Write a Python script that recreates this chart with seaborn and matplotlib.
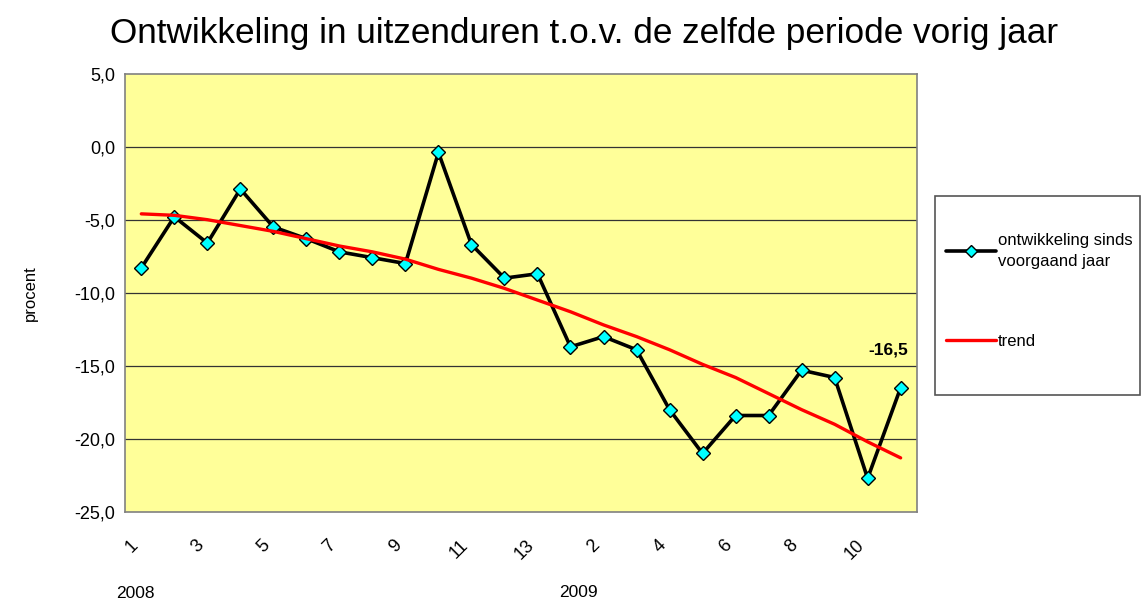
import numpy as np
import pandas as pd
import matplotlib
matplotlib.use("Agg")
import matplotlib.pyplot as plt
import seaborn as sns
from matplotlib.patches import Rectangle

# -------------------- DATA --------------------
periods = [1, 2, 3, 4, 5, 6, 7, 8, 9, 10, 11, 12, 13,
           1, 2, 3, 4, 5, 6, 7, 8, 9, 10, 11]
years = ["2008"] * 13 + ["2009"] * 11
ontwikkeling = [-8.3, -4.8, -6.6, -2.9, -5.5, -6.3, -7.2, -7.6, -8.0, -0.4, -6.7, -9.0, -8.7,
                -13.7, -13.0, -13.9, -18.0, -21.0, -18.4, -18.4, -15.3, -15.8, -22.7, -16.5]
trend = [-4.6, -4.7, -5.0, -5.4, -5.8, -6.3, -6.8, -7.2, -7.7, -8.4, -9.0, -9.7, -10.5,
         -11.3, -12.2, -13.0, -13.9, -14.9, -15.8, -16.9, -18.0, -19.0, -20.2, -21.3]
yticks = [5, 0, -5, -10, -15, -20, -25]

df = pd.DataFrame({"pos": range(len(periods)), "periode": periods, "jaar": years,
                   "ontwikkeling": ontwikkeling, "trend": trend})

# -------------------- PLOT --------------------
sns.set_style("white")
plt.rcParams["font.family"] = ["Liberation Sans", "DejaVu Sans"]
plt.rcParams["text.color"] = "black"
plt.rcParams["xtick.color"] = "black"
plt.rcParams["ytick.color"] = "black"
plt.rcParams["axes.labelcolor"] = "black"

fig = plt.figure(figsize=(11.45, 6.03), dpi=100)
ax = fig.add_axes([0.109, 0.151, 0.692, 0.727])
ax.set_facecolor("#FFFF99")

for y in yticks[1:-1]:
    ax.axhline(y, color="#333333", lw=0.9, zorder=1)

sns.lineplot(data=df, x="pos", y="ontwikkeling", ax=ax, color="black", lw=2.6,
             marker="D", markersize=7, markerfacecolor="#00FFFF", markeredgecolor="black",
             markeredgewidth=1.0, zorder=3)
sns.lineplot(data=df, x="pos", y="trend", ax=ax, color="#FF0000", lw=2.4, zorder=4)

ax.set_xlim(-0.5, len(periods) - 0.5)
ax.set_ylim(-25, 5)
ax.set_yticks(yticks)
ax.set_yticklabels([f"{v:.1f}".replace(".", ",") for v in yticks], fontsize=13)
xt = list(range(0, len(periods), 2))
ax.set_xticks(xt)
ax.set_xticklabels([str(periods[i]) for i in xt], rotation=45, ha="right",
                   va="top", fontsize=13)
ax.tick_params(axis="y", length=0, pad=7)
ax.tick_params(axis="x", length=0, pad=18)
ax.set_xlabel("")
ax.set_ylabel("procent", fontsize=12, labelpad=26)
for s in ax.spines.values():
    s.set_color("#808080")
    s.set_linewidth(1.2)

ax.annotate("-16,5", (df["pos"].iloc[-1], ontwikkeling[-1]), xytext=(-9, 27),
            textcoords="offset points", ha="center", va="center",
            fontsize=12.5, fontweight="bold")

fig.suptitle("Ontwikkeling in uitzenduren t.o.v. de zelfde periode vorig jaar",
             fontsize=25.3, x=0.51, y=0.972, va="top")
fig.text(0.118, 0.008, "2008", fontsize=12.5, ha="center")
fig.text(0.505, 0.01, "2009", fontsize=12.5, ha="center")

# legend box
fig.patches.append(Rectangle((0.8166, 0.345), 0.179, 0.33, transform=fig.transFigure,
                             facecolor="white", edgecolor="#555555", lw=1.2))
handles = [plt.Line2D([], [], color="black", lw=2.6, marker="D", markersize=6,
                      markerfacecolor="#00FFFF", markeredgecolor="black"),
           plt.Line2D([], [], color="#FF0000", lw=2.4)]
leg = fig.legend(handles, ["ontwikkeling sinds\nvoorgaand jaar", "trend"],
                 loc="upper left", bbox_to_anchor=(0.813, 0.638), frameon=False,
                 fontsize=12, handlelength=3.0, handletextpad=0.1, labelspacing=3.9)
for t in leg.get_texts():
    t.set_linespacing(1.45)

fig.savefig("out.png", dpi=100)
